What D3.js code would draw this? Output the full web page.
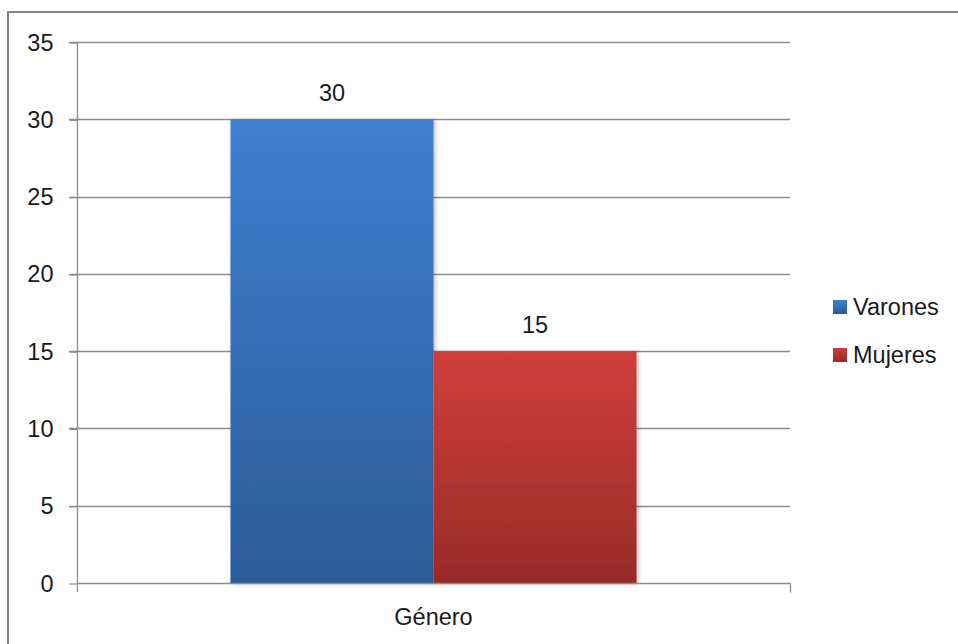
<!DOCTYPE html>
<html>
<head>
<meta charset="utf-8">
<script src="https://cdn.jsdelivr.net/npm/d3@7"></script>
<style>
  html, body { margin: 0; padding: 0; background: #fff; }
  svg { display: block; }
  text { font-family: "Liberation Sans", Arial, sans-serif; fill: #1a1a1a; }
</style>
</head>
<body>
<svg id="chart" width="958" height="644"></svg>
<script>
const categories = ["Género"];
const seriesNames = ["Varones", "Mujeres"];
const seriesValues = [[30], [15]];
const yTicks = [0, 5, 10, 15, 20, 25, 30, 35];
const seriesColors = [["#3d7fcf", "#2c5c98"], ["#d03f3c", "#982b28"]];

const svg = d3.select("#chart");
const W = 958, H = 644;
const plot = { left: 77, right: 790, top: 42, bottom: 583 };
const fontSize = 23.5;

// outer border
svg.append("rect").attr("x", 8).attr("y", 12).attr("width", W + 20).attr("height", H + 20)
  .attr("fill", "none").attr("stroke", "#858585").attr("stroke-width", 2);

const defs = svg.append("defs");
seriesColors.forEach((c, i) => {
  const g = defs.append("linearGradient").attr("id", "grad" + i)
    .attr("x1", 0).attr("y1", 0).attr("x2", 0).attr("y2", 1);
  g.append("stop").attr("offset", "0%").attr("stop-color", c[0]);
  g.append("stop").attr("offset", "100%").attr("stop-color", c[1]);
});
const f = defs.append("filter").attr("id", "shadow").attr("x", "-10%").attr("y", "-10%").attr("width", "130%").attr("height", "130%");
f.append("feDropShadow").attr("dx", 2).attr("dy", 1).attr("stdDeviation", 2).attr("flood-color", "#000").attr("flood-opacity", 0.25);

const y = d3.scaleLinear().domain([0, 35]).range([plot.bottom, plot.top]);
const x0 = d3.scaleBand().domain(categories).range([plot.left, plot.right]).padding(0);
const x1 = d3.scaleBand().domain(seriesNames).range([0, x0.bandwidth()]).paddingInner(0).paddingOuter(0.756);

// gridlines
svg.append("g").selectAll("line").data(yTicks.filter(t => t > 0)).join("line")
  .attr("x1", plot.left - 8).attr("x2", plot.right)
  .attr("y1", d => Math.round(y(d)) + 0.5).attr("y2", d => Math.round(y(d)) + 0.5)
  .attr("stroke", "#8c8c8c").attr("stroke-width", 1.3);

// y axis
const yAxis = d3.axisLeft(y).tickValues(yTicks).tickSize(8).tickPadding(16).tickFormat(d3.format("d"));
const gy = svg.append("g").attr("transform", `translate(${plot.left + 0.5},0.5)`).call(yAxis);
gy.select(".domain").remove();
gy.selectAll(".tick line").attr("stroke", "#8c8c8c").attr("stroke-width", 1.3);
gy.selectAll(".tick text").attr("font-size", fontSize).attr("font-family", "Liberation Sans, Arial, sans-serif").attr("fill", "#1a1a1a");
svg.append("line").attr("x1", plot.left + 0.5).attr("x2", plot.left + 0.5)
  .attr("y1", plot.top).attr("y2", plot.bottom + 9).attr("stroke", "#8c8c8c").attr("stroke-width", 1.3);

// bars
const bars = svg.append("g");
categories.forEach((cat, ci) => {
  seriesNames.forEach((s, si) => {
    const v = seriesValues[si][ci];
    bars.append("rect")
      .attr("x", x0(cat) + x1(s)).attr("width", x1.bandwidth())
      .attr("y", y(v)).attr("height", y(0) - y(v))
      .attr("fill", `url(#grad${si})`).attr("filter", "url(#shadow)");
    svg.append("text")
      .attr("x", x0(cat) + x1(s) + x1.bandwidth() / 2).attr("y", y(v) - 18)
      .attr("text-anchor", "middle").attr("font-size", fontSize).text(v);
  });
});

// x axis
const xAxisY = Math.round(y(0)) + 0.5;
svg.append("line").attr("x1", plot.left).attr("x2", plot.right + 0.5)
  .attr("y1", xAxisY).attr("y2", xAxisY).attr("stroke", "#8c8c8c").attr("stroke-width", 1.3);
svg.append("line").attr("x1", plot.right + 0.5).attr("x2", plot.right + 0.5)
  .attr("y1", xAxisY).attr("y2", xAxisY + 9).attr("stroke", "#8c8c8c").attr("stroke-width", 1.3);
svg.append("g").selectAll("text").data(categories).join("text")
  .attr("x", d => x0(d) + x0.bandwidth() / 2).attr("y", 625)
  .attr("text-anchor", "middle").attr("font-size", fontSize).text(d => d);

// legend
const legend = svg.append("g");
seriesNames.forEach((s, i) => {
  const ly = 300 + i * 48;
  legend.append("rect").attr("x", 833).attr("y", ly).attr("width", 14).attr("height", 14)
    .attr("fill", `url(#grad${i})`);
  legend.append("text").attr("x", 853).attr("y", ly + 15).attr("font-size", fontSize).text(s);
});
</script>
</body>
</html>
